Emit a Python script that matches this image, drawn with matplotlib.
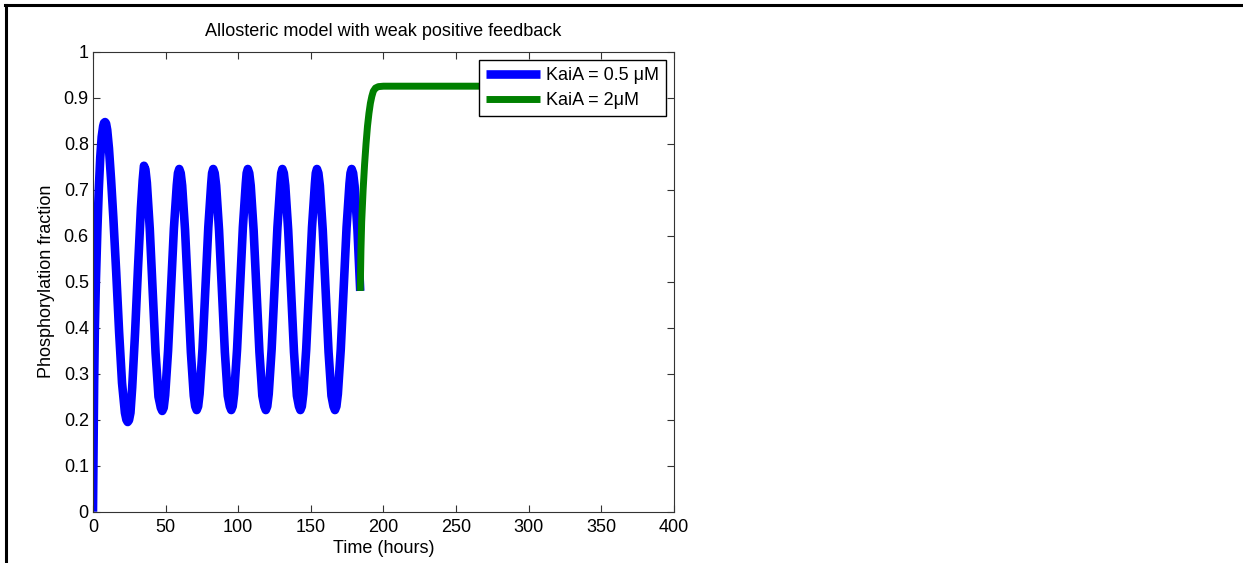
import matplotlib
matplotlib.use('Agg')
import matplotlib.pyplot as plt
from matplotlib.lines import Line2D

plt.rcParams['font.family'] = ['Liberation Sans', 'DejaVu Sans']

# KaiA = 0.5 uM run (hours, phosphorylation fraction)
t_low = [0, 0.4, 0.8, 1.3, 2, 3, 4, 5, 6, 7, 7.6, 8.3, 9.0, 9.8, 11, 12.5, 14, 16, 18, 20, 22, 23.0, 23.9, 24.8,
         25.8, 27, 29, 31, 33, 34.2, 35.1,
         36.1, 37.1, 39.1, 41.1, 43.1, 45.1, 46.7, 47.7, 48.7, 49.7, 51.7, 53.7, 55.7, 57.7, 58.5, 59.4,
         60.4, 61.4, 63.4, 65.4, 67.4, 69.4, 70.4, 71.4, 72.4, 73.4, 75.4, 77.4, 79.4, 81.4, 82.0, 82.8,
         83.8, 84.8, 86.8, 88.8, 90.8, 92.8, 94.2, 95.2, 96.2, 97.2, 99.2, 101.2, 103.2, 105.2, 105.8, 106.6,
         107.6, 108.6, 110.6, 112.6, 114.6, 116.6, 118.0, 119.0, 120.0, 121.0, 123.0, 125.0, 127.0, 129.0, 129.6, 130.4,
         131.4, 132.4, 134.4, 136.4, 138.4, 140.4, 141.8, 142.8, 143.8, 144.8, 146.8, 148.8, 150.8, 152.8, 153.4, 154.2,
         155.2, 156.2, 158.2, 160.2, 162.2, 164.2, 165.6, 166.6, 167.6, 168.6, 170.6, 172.6, 174.6, 176.6, 177.3, 178.1,
         179.1, 180.1, 182.1, 184.0]
v_low = [0.0, 0.15, 0.28, 0.40, 0.50, 0.61, 0.70, 0.77, 0.815, 0.838, 0.845, 0.847, 0.844, 0.83, 0.79, 0.72, 0.64, 0.52, 0.39, 0.28, 0.215, 0.2, 0.195, 0.199,
         0.215, 0.27, 0.39, 0.53, 0.66, 0.72, 0.752,
         0.744, 0.715, 0.615, 0.48, 0.345, 0.25, 0.226, 0.219, 0.226, 0.253, 0.35, 0.483, 0.615, 0.71, 0.736, 0.745,
         0.736, 0.709, 0.612, 0.479, 0.347, 0.252, 0.229, 0.221, 0.229, 0.256, 0.353, 0.486, 0.618, 0.713, 0.736, 0.745,
         0.736, 0.709, 0.612, 0.479, 0.347, 0.252, 0.229, 0.221, 0.229, 0.256, 0.353, 0.486, 0.618, 0.713, 0.736, 0.745,
         0.736, 0.709, 0.612, 0.479, 0.347, 0.252, 0.229, 0.221, 0.229, 0.256, 0.353, 0.486, 0.618, 0.713, 0.736, 0.745,
         0.736, 0.709, 0.612, 0.479, 0.347, 0.252, 0.229, 0.221, 0.229, 0.256, 0.353, 0.486, 0.618, 0.713, 0.736, 0.745,
         0.736, 0.709, 0.612, 0.479, 0.347, 0.252, 0.229, 0.221, 0.229, 0.256, 0.353, 0.486, 0.618, 0.713, 0.736, 0.745,
         0.736, 0.709, 0.612, 0.48]

# KaiA = 2 uM run, switched on at ~184 h
t_high = [184.0, 184.5, 185, 186, 187, 188, 189, 190, 191, 192, 193, 194.5, 196.5, 200, 300]
v_high = [0.48, 0.57, 0.63, 0.70, 0.755, 0.80, 0.838, 0.866, 0.888, 0.903, 0.914, 0.921, 0.924, 0.925, 0.925]

x_ticks = [0, 50, 100, 150, 200, 250, 300, 350, 400]
y_ticks = [0, 0.1, 0.2, 0.3, 0.4, 0.5, 0.6, 0.7, 0.8, 0.9, 1]

fig = plt.figure(figsize=(12.43, 5.63), dpi=100)
ax = fig.add_axes([0.0748, 0.0911, 0.4674, 0.8171])

ax.plot(t_low, v_low, color='#0000ff', lw=6.2, solid_capstyle='butt',
        solid_joinstyle='round', label='KaiA = 0.5 \u03bcM')
ax.plot(t_high, v_high, color='#008000', lw=5.0, solid_capstyle='butt',
        solid_joinstyle='round', label='KaiA = 2\u03bcM')

ax.set_xlim(0, 400)
ax.set_ylim(0, 1)
ax.set_xticks(x_ticks)
ax.set_yticks(y_ticks)
ax.set_xticklabels([str(x) for x in x_ticks])
ax.set_yticklabels(['0', '0.1', '0.2', '0.3', '0.4', '0.5', '0.6', '0.7', '0.8', '0.9', '1'])
ax.tick_params(direction='in', top=True, right=True, length=5, width=0.8,
               labelsize=13, color='#333333', pad=3)
ax.tick_params(axis='x', pad=5)
for s in ax.spines.values():
    s.set_color('#333333')
    s.set_linewidth(0.8)

ax.set_title('Allosteric model with weak positive feedback', fontsize=13, pad=11)
ax.set_xlabel('Time (hours)', fontsize=13, labelpad=3)
ax.set_ylabel('Phosphorylation fraction', fontsize=13, labelpad=6)

leg = ax.legend(loc='upper right', fontsize=13, fancybox=False, framealpha=1,
                edgecolor='black', borderaxespad=0.45, handlelength=3.0,
                handletextpad=0.3, borderpad=0.4, labelspacing=0.45)
leg.get_frame().set_linewidth(1.0)

# page frame around the figure
fig.add_artist(Line2D([5 / 1243, 1], [1 - 5 / 563, 1 - 5 / 563], color='black', lw=2.2))
fig.add_artist(Line2D([6 / 1243, 6 / 1243], [0, 1 - 5 / 563], color='black', lw=2.2))

fig.savefig('out.png', dpi=100)
